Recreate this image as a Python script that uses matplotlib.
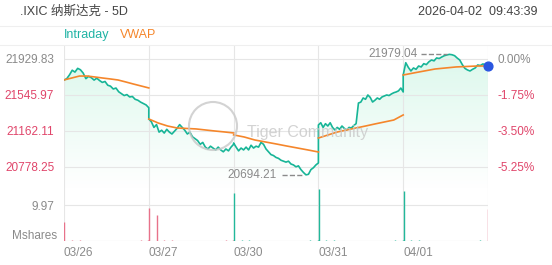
import numpy as np
import matplotlib.pyplot as plt
from matplotlib.patches import Circle
from matplotlib.colors import LinearSegmentedColormap

plt.rcParams['font.family'] = ['Liberation Sans', 'Noto Sans CJK SC', 'DejaVu Sans']

# данные
days = ['03/26', '03/27', '03/30', '03/31', '04/01']

price_d1 = [21705, 21720, 21760, 21810, 21790, 21830, 21815, 21780, 21720, 21745,
            21730, 21705, 21725, 21700, 21680, 21690, 21650, 21640, 21610, 21620,
            21580, 21560, 21540, 21550, 21525, 21530, 21500, 21490, 21470, 21455,
            21440, 21410]
price_d2 = [21290, 21260, 21200, 21230, 21150, 21170, 21140, 21180, 21150, 21130,
            21160, 21190, 21230, 21200, 21170, 21130, 21150, 21100, 21080, 21060,
            21020, 21040, 20990, 20970, 21000, 20980, 20960, 20990, 20960, 20940,
            20970, 20950, 20990, 21020]
price_d3 = [21034, 20990, 20950, 20980, 20960, 20990, 20960, 21010, 20980, 21000,
            20990, 21040, 21020, 20970, 20940, 20910, 20900, 20880, 20870, 20850,
            20840, 20830, 20840, 20810, 20800, 20780, 20790, 20750, 20720, 20694.21,
            20700, 20750, 20770, 20800, 20821]
price_d4 = [21226, 21250, 21200, 21240, 21215, 21250, 21200, 21173, 21200, 21180,
            21215, 21190, 21173, 21200, 21194, 21220, 21240, 21460, 21470, 21514,
            21500, 21546, 21520, 21471, 21490, 21514, 21500, 21525, 21535, 21546,
            21540, 21557, 21570, 21578, 21590, 21620, 21578]
price_d5 = [21759, 21890, 21840, 21802, 21834, 21820, 21855, 21845, 21880, 21870,
            21900, 21919, 21910, 21941, 21935, 21951, 21965, 21973, 21979.04, 21975,
            21965, 21940, 21919, 21870, 21830, 21813, 21802, 21820, 21834, 21866,
            21860, 21877, 21870, 21855]

vwap_d1 = [21706, 21727, 21748, 21748, 21738, 21727, 21717, 21706, 21685, 21663, 21642, 21621]
vwap_d2 = [21290, 21247, 21215, 21194, 21189, 21184, 21173, 21162, 21152, 21141]
vwap_d3 = [21120, 21098, 21066, 21045, 21024, 21002, 20981, 20960, 20938]
vwap_d4 = [21087, 21119, 21151, 21173, 21194, 21215, 21237, 21258, 21279, 21333]
vwap_d5 = [21759, 21781, 21802, 21823, 21834, 21845, 21850, 21855, 21855]

vol_d1 = [5.3, 0.2, 0.15, 0.1, 0.1, 0.1, 0.1, 0.1, 0.1, 0.1, 0.15, 0.2]
vol_d2 = [9.1, 7.2, 0.2, 0.15, 0.1, 0.1, 0.1, 0.1, 0.1, 0.1, 0.15, 0.2]
vol_d3 = [13.3, 0.3, 0.2, 0.1, 0.1, 0.1, 0.1, 0.1, 0.1, 0.1, 0.15, 0.2]
vol_d4 = [14.4, 0.3, 0.2, 0.1, 0.1, 0.1, 0.1, 0.1, 0.1, 0.1, 0.15, 0.2]
vol_d5 = [13.8, 0.3, 0.2, 0.1, 0.1, 0.1, 0.1, 0.1, 0.1, 0.1, 0.15, 8.9]
vol_up = [False, False, True, True, True]

price_ticks = [21929.83, 21545.97, 21162.11, 20778.25]
pct_ticks = ['0.00%', '-1.75%', '-3.50%', '-5.25%']
vol_tick = 9.97
day_high = 21979.04
day_low = 20694.21

GREEN = '#17b597'
ORANGE = '#f5862b'
RED = '#e0456a'
GREY = '#8a8a8a'
GRID = '#e6e6e6'

prices = [price_d1, price_d2, price_d3, price_d4, price_d5]
vwaps = [vwap_d1, vwap_d2, vwap_d3, vwap_d4, vwap_d5]
vols = [vol_d1, vol_d2, vol_d3, vol_d4, vol_d5]

W, H = 552, 265
fig = plt.figure(figsize=(W / 100, H / 100), dpi=100)

def px_rect(x0, y0, x1, y1):
    """прямоугольник в пикселях (сверху вниз) -> доли фигуры"""
    return [x0 / W, 1 - y1 / H, (x1 - x0) / W, (y1 - y0) / H]

ax = fig.add_axes(px_rect(64, 45, 488, 188))
axv = fig.add_axes(px_rect(64, 188, 488, 241))

# линия цены непрерывная, VWAP по дням
xs_all, ps_all = [], []
for d, p in enumerate(prices):
    xs_all.extend(np.linspace(d, d + 1, len(p)))
    ps_all.extend(p)
xs_all = np.array(xs_all)
ps_all = np.array(ps_all)

ylo, yhi = 20554, 22079
ax.set_xlim(0, 5)
ax.set_ylim(ylo, yhi)

# заливка под ценой с градиентом
poly = ax.fill_between(xs_all, ps_all, ylo, color='none')
grad = np.linspace(1, 0, 256).reshape(-1, 1)
cmap = LinearSegmentedColormap.from_list('g', ['#ffffff', '#dcf8ec'])
img = ax.imshow(grad, extent=[0, 5, ylo, 22000], aspect='auto', cmap=cmap,
                origin='upper', zorder=1)
img.set_clip_path(poly.get_paths()[0], transform=ax.transData)

ax.plot(xs_all, ps_all, color=GREEN, lw=1.2, zorder=3)
for d, v in enumerate(vwaps):
    ax.plot(np.linspace(d, d + 1, len(v)), v, color=ORANGE, lw=1.2, zorder=4)

ax.scatter([xs_all[-1]], [ps_all[-1]], s=40, color='#2a56e0', zorder=6, clip_on=False)

# сетка
ax.set_yticks(price_ticks)
ax.set_xticks(range(6))
ax.grid(color=GRID, lw=0.8, zorder=0)
ax.tick_params(length=0, labelbottom=False)
ax.set_yticklabels([f'{t:.2f}' for t in price_ticks], fontsize=8.5)
for i, lab in enumerate(ax.get_yticklabels()):
    lab.set_color(GREY if i == 0 else RED)
ax.tick_params(axis='y', pad=7)
for s in ax.spines.values():
    s.set_visible(False)

# правая ось в процентах
ax2 = ax.twinx()
ax2.set_ylim(ylo, yhi)
ax2.set_yticks(price_ticks)
ax2.set_yticklabels(pct_ticks, fontsize=8.5)
for i, lab in enumerate(ax2.get_yticklabels()):
    lab.set_color(GREY if i == 0 else RED)
ax2.tick_params(length=0, pad=7)
for s in ax2.spines.values():
    s.set_visible(False)

# максимум и минимум
hx = xs_all[np.argmax(ps_all)]
lx = xs_all[np.argmin(ps_all)]
ax.text(hx - 0.38, day_high, f'{day_high:.2f}', ha='right', va='center', fontsize=8.5, color=GREY, zorder=7)
ax.plot([hx - 0.33, hx - 0.03], [day_high, day_high], ls='--', color=GREY, lw=1, zorder=7)
ax.text(lx - 0.34, day_low, f'{day_low:.2f}', ha='right', va='center', fontsize=8.5, color=GREY, zorder=7)
ax.plot([lx - 0.28, lx - 0.02], [day_low, day_low], ls='--', color=GREY, lw=1, zorder=7)

# объёмы
for d, v in enumerate(vols):
    xs = np.linspace(d + 0.005, d + 0.995, len(v))
    col = '#22b89a' if vol_up[d] else '#e8728a'
    cols = [col] * len(v)
    if d == 4:
        cols[-1] = '#e8728a'
    axv.vlines(xs, 0, v, colors=cols, lw=1.0, zorder=3)
axv.set_xlim(0, 5)
axv.set_ylim(0, 14.7)
axv.set_yticks([vol_tick])
axv.set_yticklabels([f'{vol_tick:.2f}'], fontsize=8.5, color=GREY)
axv.set_xticks(range(6))
axv.set_xticklabels(days + [''], fontsize=8.5, color=GREY, ha='left')
axv.grid(color=GRID, lw=0.8, zorder=0)
axv.tick_params(length=0, pad=4)
axv.tick_params(axis='y', pad=7)
for s in axv.spines.values():
    s.set_visible(False)
axv.axhline(0, color='#d0d0d0', lw=0.8, zorder=2)
fig.text(57 / W, 1 - 236 / H, 'Mshares', ha='right', va='center', fontsize=8.5, color=GREY)

# шапка
fig.text(20 / W, 1 - 12 / H, '.IXIC 纳斯达克 - 5D', ha='left', va='center', fontsize=9, color='#444444')
fig.text(537 / W, 1 - 12 / H, '2026-04-02  09:43:39', ha='right', va='center', fontsize=9, color='#444444')
fig.text(64 / W, 1 - 35 / H, 'Intraday', ha='left', va='center', fontsize=9, color='#1fb3a4')
fig.text(120 / W, 1 - 35 / H, 'VWAP', ha='left', va='center', fontsize=9, color=ORANGE)
for yy in (26, 45):
    fig.add_artist(plt.Line2D([0, 1], [1 - yy / H] * 2, color='#efefef', lw=0.8))

# водяной знак
fig.add_artist(Circle((2.13, (H - 126) / 100), 0.24, transform=fig.dpi_scale_trans,
                      fill=False, ec='#c8c8c8', lw=1.5, alpha=0.8))
fig.text(247 / W, 1 - 133 / H, 'Tiger Community', fontsize=11.5, color='#c8c8c8', alpha=0.8,
         ha='left', va='center')

fig.savefig('out.png', dpi=100)
